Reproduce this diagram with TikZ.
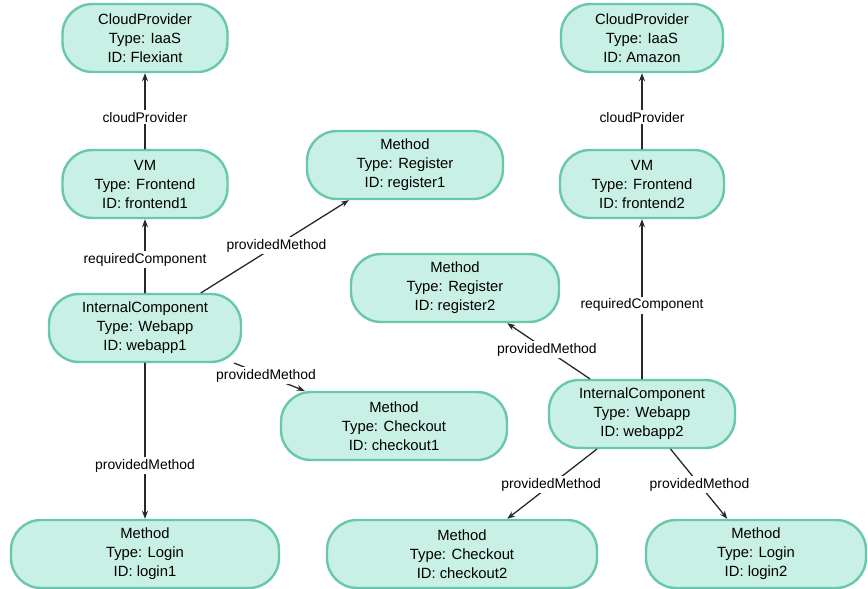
\documentclass[tikz,border=0pt]{standalone}
\usepackage{fontspec}
\setmainfont{Liberation Sans}
\usetikzlibrary{arrows.meta}
\definecolor{boxfill}{RGB}{200,240,229}
\definecolor{boxline}{RGB}{105,198,175}
\definecolor{linkc}{RGB}{40,40,40}
\begin{document}
\begin{tikzpicture}[x=1pt,y=-1pt,line join=round,line cap=round,
	entity/.style={draw=boxline,fill=boxfill,line width=2.4pt,rounded corners=30pt,align=center,
		minimum height=68pt,inner sep=0pt,font=\fontsize{14.8}{19}\selectfont},
	link/.style={draw=linkc,line width=1.3pt,-{Stealth[length=8pt,width=6pt]}},
	lbl/.style={fill=white,inner sep=2pt,font=\fontsize{13.9}{16}\selectfont}]
	\useasboundingbox (0,0) rectangle (868,589);
	\node[entity,minimum width=165pt] (cp1) at (145,38) {CloudProvider\\Type: IaaS\\ID: Flexiant};
	\node[entity,minimum width=165pt] (vm1) at (145,184) {VM\\Type: Frontend\\ID: frontend1};
	\node[entity,minimum width=192pt] (ic1) at (145,328) {InternalComponent\\Type: Webapp\\ID: webapp1};
	\node[entity,minimum width=268pt] (login1) at (145,554) {Method\\Type: Login\\ID: login1};
	\node[entity,minimum width=196pt] (reg1) at (405,165) {Method\\Type: Register\\ID: register1};
	\node[entity,minimum width=208pt] (reg2) at (455,288) {Method\\Type: Register\\ID: register2};
	\node[entity,minimum width=226pt] (co1) at (394,426) {Method\\Type: Checkout\\ID: checkout1};
	\node[entity,minimum width=270pt] (co2) at (462,554) {Method\\Type: Checkout\\ID: checkout2};
	\node[entity,minimum width=162pt] (cp2) at (642,38) {CloudProvider\\Type: IaaS\\ID: Amazon};
	\node[entity,minimum width=164pt] (vm2) at (642,184) {VM\\Type: Frontend\\ID: frontend2};
	\node[entity,minimum width=186pt] (ic2) at (642,414) {InternalComponent\\Type: Webapp\\ID: webapp2};
	\node[entity,minimum width=220pt] (login2) at (756,554) {Method\\Type: Login\\ID: login2};

	\draw[link] (vm1) -- node[lbl,pos=0.42]{cloudProvider} (cp1);
	\draw[link] (ic1) -- node[lbl,pos=0.45]{requiredComponent} (vm1);
	\draw[link] (ic1) -- node[lbl,pos=0.51]{providedMethod} (reg1);
	\draw[link] (ic1) -- node[lbl,pos=0.45]{providedMethod} (co1);
	\draw[link] (ic1) -- node[lbl,pos=0.66]{providedMethod} (login1);
	\draw[link] (vm2) -- node[lbl,pos=0.42]{cloudProvider} (cp2);
	\draw[link] (ic2) -- node[lbl,pos=0.46]{requiredComponent} (vm2);
	\draw[link] (ic2) -- node[lbl,pos=0.52]{providedMethod} (reg2);
	\draw[link] (ic2) -- node[lbl,pos=0.51]{providedMethod} (co2);
	\draw[link] (ic2) -- node[lbl,pos=0.51]{providedMethod} (login2);
\end{tikzpicture}
\end{document}
